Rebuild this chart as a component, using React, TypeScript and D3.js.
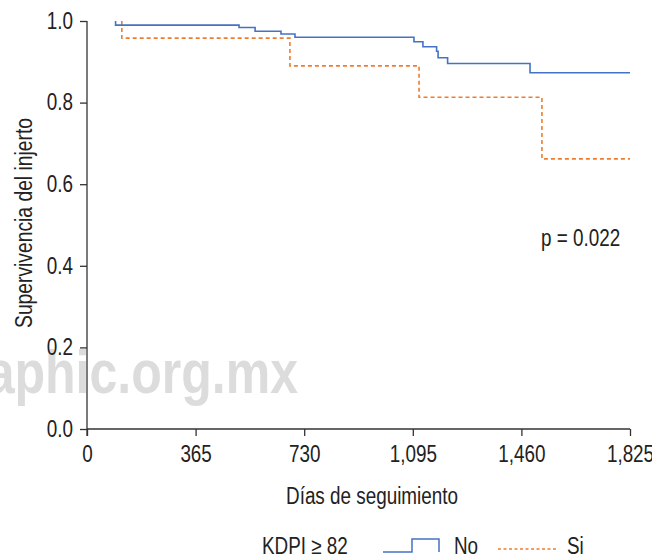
import React, { useEffect, useRef } from 'react';
import * as d3 from 'd3';

// curva "No" (KDPI < 82): días del evento y supervivencia tras el evento
const noTimes = [96, 96, 511, 565, 652, 699, 1099, 1129, 1175, 1180, 1212, 1489, 1825];
const noSurv = [1.0, 0.99, 0.984, 0.975, 0.968, 0.96, 0.949, 0.937, 0.926, 0.91, 0.896, 0.873, 0.873];

// curva "Si" (KDPI >= 82)
const siTimes = [117, 117, 682, 1116, 1529, 1825];
const siSurv = [1.0, 0.958, 0.89, 0.813, 0.662, 0.662];

const xTicks = [0, 365, 730, 1095, 1460, 1825];
const yTicks = [0, 0.2, 0.4, 0.6, 0.8, 1.0];

const FONT = "'Liberation Sans', Arial, sans-serif";
const BLUE = '#4472c4';
const ORANGE = '#ed7d31';
// the original uses a condensed face; squeeze glyphs horizontally
const NARROW = 0.82;

const App = () => {
  const width = 652;
  const height = 558;
  const margin = { top: 21, right: 22, bottom: 129, left: 87 };

  const svgRef = useRef<SVGSVGElement>(null);
  const xAxisRef = useRef<SVGGElement>(null);
  const yAxisRef = useRef<SVGGElement>(null);

  const xScale = d3
    .scaleLinear()
    .domain([0, 1825])
    .range([margin.left, width - margin.right]);

  const yScale = d3
    .scaleLinear()
    .domain([0, 1])
    .range([height - margin.bottom, margin.top]);

  const line = d3
    .line<[number, number]>()
    .x(d => xScale(d[0]))
    .y(d => yScale(d[1]))
    .curve(d3.curveStepAfter);

  const noPts = noTimes.map((t, i) => [t, noSurv[i]] as [number, number]);
  const siPts = siTimes.map((t, i) => [t, siSurv[i]] as [number, number]);

  useEffect(() => {
    const xAxis = d3
      .axisBottom(xScale)
      .tickValues(xTicks)
      .tickSize(7)
      .tickPadding(10)
      .tickFormat(d => d3.format(',')(d as number));
    const yAxis = d3
      .axisLeft(yScale)
      .tickValues(yTicks)
      .tickSize(7)
      .tickPadding(7)
      .tickFormat(d => d3.format('.1f')(d as number));

    const gx = d3.select(xAxisRef.current!).call(xAxis);
    const gy = d3.select(yAxisRef.current!).call(yAxis);
    [gx, gy].forEach(g => {
      g.attr('font-family', FONT).attr('font-size', 23);
      g.selectAll('.domain').attr('stroke', '#333').attr('stroke-width', 1.3);
      g.selectAll('.tick line').attr('stroke', '#333').attr('stroke-width', 1.3);
      g.selectAll('.tick text').attr('fill', '#222');
    });
    gx.select('.domain').attr('d', `M${xScale(0)},0H${xScale(1825)}`);
    gy.select('.domain').attr('d', `M0,${yScale(1)}V${yScale(0) + 7}`);

    d3.select(svgRef.current!)
      .selectAll<SVGTextElement, unknown>('text')
      .each(function () {
        this.removeAttribute('textLength');
        const len = this.getComputedTextLength();
        this.setAttribute('textLength', String(len * NARROW));
        this.setAttribute('lengthAdjust', 'spacingAndGlyphs');
      });
  }, []);

  const legX = 262;
  const legY = 554;

  return (
    <svg
      ref={svgRef}
      width={width}
      height={height}
      viewBox={`0 0 ${width} ${height}`}
      style={{ position: 'absolute', left: 0, top: 0, background: '#fff' }}
    >
      <text
        x={298}
        y={393}
        textAnchor="end"
        fontFamily={FONT}
        fontWeight="bold"
        fontSize={61}
        fill="#dcdcdc"
      >
        aphic.org.mx
      </text>

      <path d={line(siPts) ?? ''} fill="none" stroke={ORANGE} strokeWidth={1.6} strokeDasharray="4,3" />
      <path d={line(noPts) ?? ''} fill="none" stroke={BLUE} strokeWidth={1.6} />

      <g ref={xAxisRef} transform={`translate(0, ${height - margin.bottom})`} />
      <g ref={yAxisRef} transform={`translate(${margin.left}, 0)`} />

      <text x={372} y={504} textAnchor="middle" fontFamily={FONT} fontSize={23} fill="#222">
        Días de seguimiento
      </text>
      <text
        transform={`translate(32, 223) rotate(-90)`}
        textAnchor="middle"
        fontFamily={FONT}
        fontSize={23.5}
        fill="#222"
      >
        Supervivencia del injerto
      </text>

      <text x={541} y={246} fontFamily={FONT} fontSize={23} fill="#222">
        p = 0.022
      </text>

      <g fontFamily={FONT} fontSize={23} fill="#222">
        <text x={legX} y={legY}>KDPI ≥ 82</text>
        <path
          d={`M${legX + 121},${legY - 2}H${legX + 150}V${legY - 15}H${legX + 177}V${legY - 2}`}
          fill="none"
          stroke={BLUE}
          strokeWidth={1.5}
        />
        <text x={legX + 192} y={legY}>No</text>
        <line
          x1={legX + 236}
          x2={legX + 295}
          y1={legY - 5}
          y2={legY - 5}
          stroke={ORANGE}
          strokeWidth={1.3}
          strokeDasharray="3,2.5"
        />
        <text x={legX + 305} y={legY}>Si</text>
      </g>
    </svg>
  );
};

export default App;
